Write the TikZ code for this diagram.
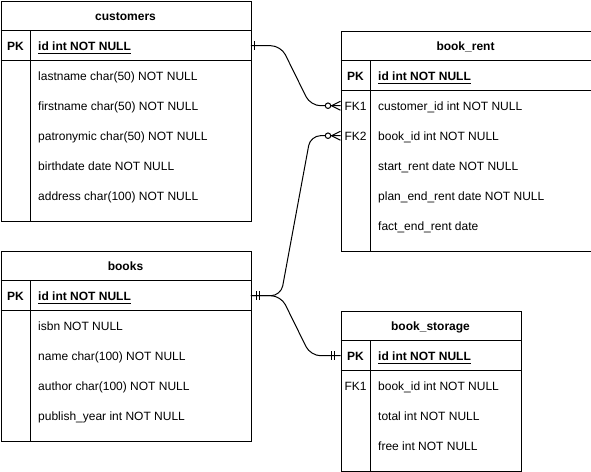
\documentclass[tikz,border=0pt]{standalone}
\usepackage{fontspec}
\setmainfont{Liberation Sans}
\begin{document}
\begin{tikzpicture}[x=1pt,y=-1pt,
  every node/.style={font=\fontsize{12}{14}\selectfont, inner sep=0pt},
  tbl/.style={draw, line width=1pt, anchor=north west},
  row/.style={minimum height=30pt, anchor=north west},
  ttl/.style={anchor=base, font=\fontsize{12}{14}\selectfont\bfseries},
  key/.style={anchor=base},
  pkkey/.style={anchor=base, font=\fontsize{12}{14}\selectfont\bfseries},
  fld/.style={anchor=base west},
  pkfld/.style={anchor=base west, font=\fontsize{12}{14}\selectfont\bfseries},
  ln/.style={line width=1pt},
  conn/.style={line width=1pt, rounded corners=10pt},
  mk/.style={line width=1pt},
  circmk/.style={line width=1pt, fill=white},
]
\useasboundingbox[fill=white] (0,0) rectangle (591,471);

% ---------- customers ----------
\node[tbl, minimum width=250pt, minimum height=220pt] (cust) at (0.5,0.5) {};
\draw[ln] (0.5,30.5) -- (250.5,30.5);
\draw[ln] (0.5,60.5) -- (250.5,60.5);
\draw[ln] (30.5,30.5) -- (30.5,220.5);
\node[row, minimum width=250pt] (custpk) at (0.5,30.5) {};
\node[ttl] (custt) at (125.5,20.5) {customers};
\node[pkkey] (custk) at (15.5,50.5) {PK};
\node[pkfld] (custid) at (38,50.5) {id int NOT NULL};
\draw[ln] ([yshift=-2.8pt]custid.base west) -- ([yshift=-2.8pt]custid.base east);
\node[fld] (cf1) at (38,80.5) {lastname char(50) NOT NULL};
\node[fld] (cf2) at (38,110.5) {firstname char(50) NOT NULL};
\node[fld] (cf3) at (38,140.5) {patronymic char(50) NOT NULL};
\node[fld] (cf4) at (38,170.5) {birthdate date NOT NULL};
\node[fld] (cf5) at (38,200.5) {address char(100) NOT NULL};

% ---------- book_rent ----------
\node[tbl, minimum width=250pt, minimum height=220pt] (rent) at (340.5,30.5) {};
\draw[ln] (340.5,60.5) -- (590.5,60.5);
\draw[ln] (340.5,90.5) -- (590.5,90.5);
\draw[ln] (370.5,60.5) -- (370.5,250.5);
\node[row, minimum width=250pt] (rentfk1) at (340.5,90.5) {};
\node[row, minimum width=250pt] (rentfk2) at (340.5,120.5) {};
\node[ttl] (rentt) at (465.5,50.5) {book\_rent};
\node[pkkey] (rentk) at (355.5,80.5) {PK};
\node[pkfld] (rentid) at (378,80.5) {id int NOT NULL};
\draw[ln] ([yshift=-2.8pt]rentid.base west) -- ([yshift=-2.8pt]rentid.base east);
\node[key] (rk1) at (355.5,110.5) {FK1};
\node[fld] (rf1) at (378,110.5) {customer\_id int NOT NULL};
\node[key] (rk2) at (355.5,140.5) {FK2};
\node[fld] (rf2) at (378,140.5) {book\_id int NOT NULL};
\node[fld] (rf3) at (378,170.5) {start\_rent date NOT NULL};
\node[fld] (rf4) at (378,200.5) {plan\_end\_rent date NOT NULL};
\node[fld] (rf5) at (378,230.5) {fact\_end\_rent date};

% ---------- books ----------
\node[tbl, minimum width=250pt, minimum height=190pt] (books) at (0.5,250.5) {};
\draw[ln] (0.5,280.5) -- (250.5,280.5);
\draw[ln] (0.5,310.5) -- (250.5,310.5);
\draw[ln] (30.5,280.5) -- (30.5,440.5);
\node[row, minimum width=250pt] (bookspk) at (0.5,280.5) {};
\node[ttl] (bookst) at (125.5,270.5) {books};
\node[pkkey] (booksk) at (15.5,300.5) {PK};
\node[pkfld] (booksid) at (38,300.5) {id int NOT NULL};
\draw[ln] ([yshift=-2.8pt]booksid.base west) -- ([yshift=-2.8pt]booksid.base east);
\node[fld] (bf1) at (38,330.5) {isbn NOT NULL};
\node[fld] (bf2) at (38,360.5) {name char(100) NOT NULL};
\node[fld] (bf3) at (38,390.5) {author char(100) NOT NULL};
\node[fld] (bf4) at (38,420.5) {publish\_year int NOT NULL};

% ---------- book_storage ----------
\node[tbl, minimum width=180pt, minimum height=160pt] (store) at (340.5,310.5) {};
\draw[ln] (340.5,340.5) -- (520.5,340.5);
\draw[ln] (340.5,370.5) -- (520.5,370.5);
\draw[ln] (370.5,340.5) -- (370.5,470.5);
\node[row, minimum width=180pt] (storepk) at (340.5,340.5) {};
\node[ttl] (storet) at (430.5,330.5) {book\_storage};
\node[pkkey] (storek) at (355.5,360.5) {PK};
\node[pkfld] (storeid) at (378,360.5) {id int NOT NULL};
\draw[ln] ([yshift=-2.8pt]storeid.base west) -- ([yshift=-2.8pt]storeid.base east);
\node[key] (sk1) at (355.5,390.5) {FK1};
\node[fld] (sf1) at (378,390.5) {book\_id int NOT NULL};
\node[fld] (sf2) at (378,420.5) {total int NOT NULL};
\node[fld] (sf3) at (378,450.5) {free int NOT NULL};

% ---------- connectors ----------
\draw[conn] (custpk.east) -- ([xshift=30pt]custpk.east) -- ([xshift=-30pt]rentfk1.west) -- (rentfk1.west);
\draw[conn] (bookspk.east) -- ([xshift=30pt]bookspk.east) -- ([xshift=-30pt]rentfk2.west) -- (rentfk2.west);
\draw[conn] (bookspk.east) -- ([xshift=30pt]bookspk.east) -- ([xshift=-30pt]storepk.west) -- (storepk.west);

% ---------- markers ----------
% one (customers)
\draw[mk] ([xshift=4pt,yshift=4.5pt]custpk.east) -- ([xshift=4pt,yshift=-4.5pt]custpk.east);
% mandatory one (books)
\draw[mk] ([xshift=6pt,yshift=4.5pt]bookspk.east) -- ([xshift=6pt,yshift=-4.5pt]bookspk.east);
\draw[mk] ([xshift=9pt,yshift=4.5pt]bookspk.east) -- ([xshift=9pt,yshift=-4.5pt]bookspk.east);
% mandatory one (book_storage)
\draw[mk] ([xshift=-6pt,yshift=4.5pt]storepk.west) -- ([xshift=-6pt,yshift=-4.5pt]storepk.west);
\draw[mk] ([xshift=-9pt,yshift=4.5pt]storepk.west) -- ([xshift=-9pt,yshift=-4.5pt]storepk.west);
% zero to many (book_rent FK1, FK2)
\draw[mk] ([xshift=-9pt]rentfk1.west) -- ([yshift=4.5pt]rentfk1.west)
          ([xshift=-9pt]rentfk1.west) -- ([yshift=-4.5pt]rentfk1.west);
\draw[circmk] ([xshift=-12.5pt]rentfk1.west) circle (2.75pt);
\draw[mk] ([xshift=-9pt]rentfk2.west) -- ([yshift=4.5pt]rentfk2.west)
          ([xshift=-9pt]rentfk2.west) -- ([yshift=-4.5pt]rentfk2.west);
\draw[circmk] ([xshift=-12.5pt]rentfk2.west) circle (2.75pt);
\end{tikzpicture}
\end{document}
